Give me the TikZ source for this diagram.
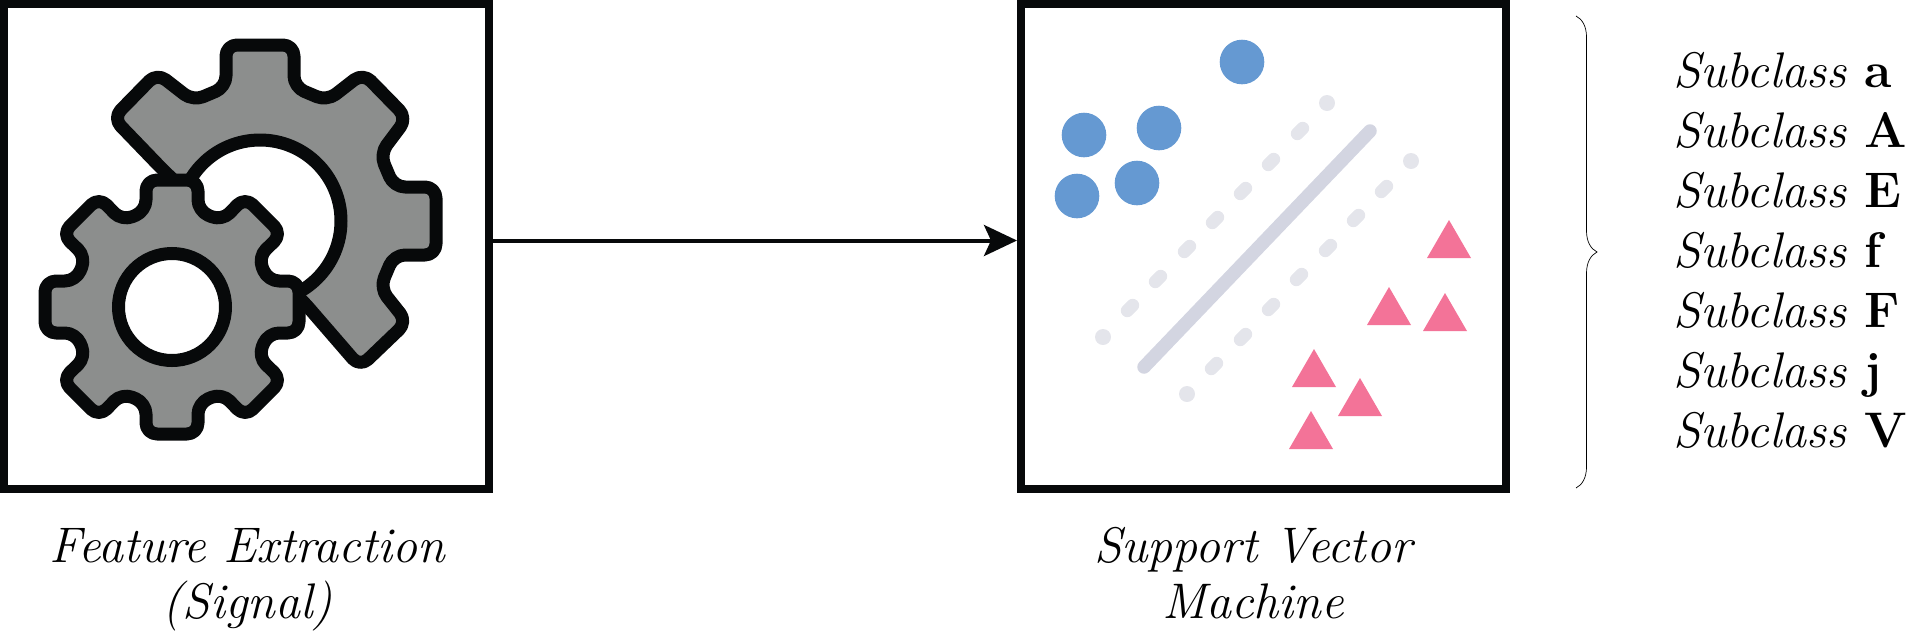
\documentclass[tikz,border=0pt]{standalone}
\usetikzlibrary{arrows.meta,calc,decorations.pathreplacing}
\definecolor{ink}{HTML}{07090A}
\definecolor{gearfill}{HTML}{8C8E8D}
\definecolor{bluept}{HTML}{6599D2}
\definecolor{pinkpt}{HTML}{F37398}
\definecolor{midline}{HTML}{D3D5E1}
\definecolor{sideline}{HTML}{E4E5EB}
\tikzset{
  framebox/.style={draw=ink,line width=8pt,minimum width=485pt,minimum height=485pt,inner sep=0pt},
  gearline/.style={draw=ink,line width=13pt,line join=round,rounded corners=11pt},
  holeline/.style={draw=ink,line width=13pt,fill=white},
  bluedot/.style={fill=bluept,draw=none},
  pinktri/.style={fill=pinkpt,draw=none},
  marginline/.style={sideline,line width=13pt,line cap=round},
  margindot/.style={fill=sideline,draw=none},
  caption/.style={font=\fontsize{50}{58}\selectfont\itshape,anchor=base,inner sep=0pt},
  subclass/.style={font=\fontsize{50}{58}\selectfont,anchor=base west,inner sep=0pt},
  flow/.style={draw=ink,line width=4pt,-{Stealth[length=33pt,width=31pt,inset=7pt]}},
}
\newcommand{\tri}[2]{\fill[pinktri] (#1,#2) -- (#1-22,#2+38) -- (#1+22,#2+38) -- cycle;}
\newcommand{\dsh}[2]{\draw[marginline] (#1-2.7,#2+2.7) -- (#1+2.7,#2-2.7);}
\newcommand{\sub}[1]{\textit{Subclass}\hspace{17pt}\textbf{#1}}
\begin{document}
\begin{tikzpicture}[x=1pt,y=-1pt]
\useasboundingbox (0,0) rectangle (1907,638);
\node[framebox] (fe) at (246.5,246.5) {};
\node[framebox] (sv) at (1263.5,246.5) {};
% big gear
\begin{scope}[shift={(260,221)}]
\draw[gearline,fill=gearfill]
 (-34,-176) -- (34,-176) -- (34,-134) -- (67,-120) -- (103,-148) -- (147,-103)
 -- (120,-67) -- (134,-34) -- (176,-34) -- (176,34) -- (134,34) -- (120,67)
 -- (147,101) -- (100,146) -- (42,79) -- (-95,-49) -- (-147,-103) -- (-103,-148)
 -- (-67,-120) -- (-34,-134) -- cycle;
\draw[holeline] (0,0) circle[radius=81];
\end{scope}
% small gear
\begin{scope}[shift={(172,307)}]
\draw[gearline,fill=gearfill]
 (-26,-127) -- (26,-127) -- (26,-96) -- (50,-86) -- (73,-110) -- (110,-73)
 -- (86,-50) -- (96,-26) -- (127,-26) -- (127,26) -- (96,26) -- (86,50)
 -- (110,73) -- (73,110) -- (50,86) -- (26,96) -- (26,127) -- (-26,127)
 -- (-26,96) -- (-50,86) -- (-73,110) -- (-110,73) -- (-86,50) -- (-96,26)
 -- (-127,26) -- (-127,-26) -- (-96,-26) -- (-86,-50) -- (-110,-73) -- (-73,-110)
 -- (-50,-86) -- (-26,-96) -- cycle;
\draw[holeline] (0,0) circle[radius=53.5];
\end{scope}
% svm
\fill[bluedot] (1084,135) circle[radius=22.3];
\fill[bluedot] (1159,128) circle[radius=22.3];
\fill[bluedot] (1137,183) circle[radius=22.3];
\fill[bluedot] (1077,196) circle[radius=22.3];
\fill[bluedot] (1242,62) circle[radius=22.3];
\draw[midline,line width=13.5pt,line cap=round] (1144,367) -- (1370,131);
\fill[margindot] (1103,337) circle[radius=8];
\dsh{1130}{308}\dsh{1158}{279}\dsh{1187}{249}\dsh{1215}{220}\dsh{1243}{191}\dsh{1271}{162}\dsh{1300}{131}
\fill[margindot] (1327,103) circle[radius=8];
\fill[margindot] (1411,161) circle[radius=8];
\dsh{1384}{189}\dsh{1356}{218}\dsh{1328}{248}\dsh{1299}{277}\dsh{1271}{307}\dsh{1243}{337}\dsh{1214}{366}
\fill[margindot] (1187,394) circle[radius=8];
\tri{1449}{220}\tri{1389}{287}\tri{1445}{293}\tri{1314}{349}\tri{1360}{378}\tri{1311}{411}
% arrow
\draw[flow] ([yshift=6pt]fe.east) -- ([yshift=6pt]sv.west);
% captions
\node[caption] (c1) at (247.5,562) {Feature Extraction};
\node[caption] (c1b) at (247.5,618) {(Signal)};
\node[caption] (c2) at (1253,562) {Support Vector};
\node[caption] (c2b) at (1253,618) {Machine};
% brace
\coordinate (b1) at (1576,16);
\coordinate (b2) at (1576,488);
\draw[line width=0.7pt,decorate,decoration={brace,amplitude=21pt}] (b1) -- (b2);
% list
\node[subclass] (s1) at (1673,87) {\sub{a}};
\node[subclass] (s2) at (1673,147) {\sub{A}};
\node[subclass] (s3) at (1673,207) {\sub{E}};
\node[subclass] (s4) at (1673,267) {\sub{f}};
\node[subclass] (s5) at (1673,327) {\sub{F}};
\node[subclass] (s6) at (1673,387) {\sub{j}};
\node[subclass] (s7) at (1673,447) {\sub{V}};
\end{tikzpicture}
\end{document}
